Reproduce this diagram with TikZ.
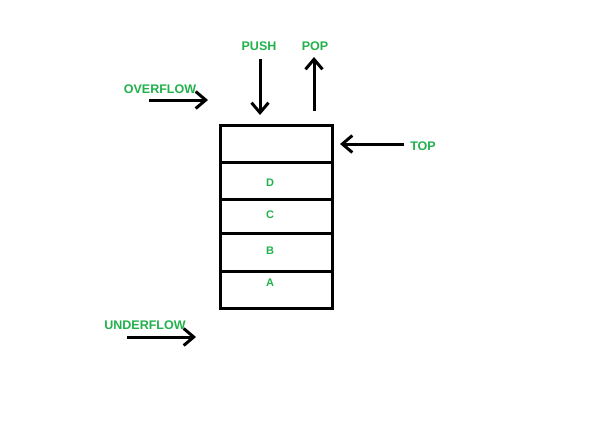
\documentclass[tikz,border=0pt]{standalone}
\usepackage{fontspec}
\setmainfont{Liberation Sans}
\usetikzlibrary{arrows.meta}
\definecolor{pgreen}{RGB}{34,177,76}
\begin{document}
\begin{tikzpicture}[x=1pt,y=-1pt,
  lbl/.style={text=pgreen,font=\bfseries\fontsize{12.5}{14}\selectfont,inner sep=0pt},
  small/.style={text=pgreen,font=\bfseries\fontsize{11}{13}\selectfont,inner sep=0pt},
  cell/.style={draw,line width=3pt,minimum width=112pt,inner sep=0pt,outer sep=0pt},
  arr/.style={line width=3pt,-{Straight Barb[length=10pt,width=17pt,line width=3pt]}}]
\useasboundingbox (0,0) rectangle (592,421);
\fill[white] (0,0) rectangle (592,421);
% stack cells
\node[cell,minimum height=37pt] (ctop) at (276,143.5) {};
\node[cell,minimum height=37pt] (cD) at (276,180.5) {};
\node[cell,minimum height=34pt] (cC) at (276,216) {};
\node[cell,minimum height=38pt] (cB) at (276,252) {};
\node[cell,minimum height=37pt] (cA) at (276,289.5) {};
\node[small] (tD) at (270,183) {D};
\node[small] (tC) at (270,215) {C};
\node[small] (tB) at (270,251) {B};
\node[small] (tA) at (270,283) {A};
% labels
\node[lbl] (push) at (259,46) {PUSH};
\node[lbl] (pop) at (315,46) {POP};
\node[lbl] (over) at (160,89) {OVERFLOW};
\node[lbl] (top) at (423,146) {TOP};
\node[lbl] (under) at (145,325) {UNDERFLOW};
% arrow endpoints
\coordinate (pushs) at (260,59);
\coordinate (pushe) at (260,115);
\coordinate (pops) at (314,111);
\coordinate (pope) at (314,57);
\coordinate (overs) at (149,100);
\coordinate (overe) at (208,100);
\coordinate (tops) at (404,144);
\coordinate (tope) at (340,144);
\coordinate (unders) at (127,337);
\coordinate (undere) at (196,337);
\draw[arr] (pushs) -- (pushe);
\draw[arr] (pops) -- (pope);
\draw[arr] (overs) -- (overe);
\draw[arr] (tops) -- (tope);
\draw[arr] (unders) -- (undere);
\end{tikzpicture}
\end{document}
